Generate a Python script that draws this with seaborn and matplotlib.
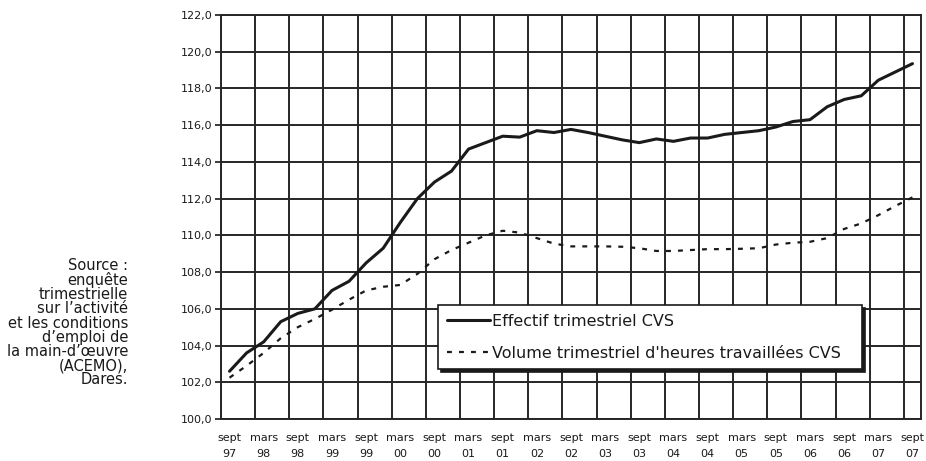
import numpy as np
import pandas as pd
import matplotlib
matplotlib.use("Agg")
import matplotlib.pyplot as plt
import seaborn as sns
from matplotlib.ticker import FixedLocator, FuncFormatter

# quarterly data, sept 97 .. sept 07 (41 quarters)
effectif = [102.6, 103.6, 104.2, 105.3, 105.75, 106.0, 107.0, 107.5, 108.5, 109.3,
            110.7, 112.0, 112.9, 113.5, 114.7, 115.05, 115.4, 115.35, 115.7, 115.6,
            115.77, 115.6, 115.4, 115.2, 115.05, 115.25, 115.12, 115.3, 115.3, 115.5,
            115.6, 115.7, 115.9, 116.2, 116.3, 117.0, 117.4, 117.6, 118.45, 118.9,
            119.35]
volume = [102.25, 102.9, 103.6, 104.4, 105.0, 105.45, 105.95, 106.5, 107.0, 107.2,
          107.3, 107.9, 108.7, 109.2, 109.6, 110.0, 110.25, 110.15, 109.85, 109.55,
          109.4, 109.4, 109.4, 109.38, 109.3, 109.15, 109.15, 109.2, 109.25, 109.25,
          109.27, 109.3, 109.5, 109.6, 109.65, 109.85, 110.35, 110.65, 111.1, 111.6,
          112.07]
tick_labels = ["sept\n97", "mars\n98", "sept\n98", "mars\n99", "sept\n99", "mars\n00",
               "sept\n00", "mars\n01", "sept\n01", "mars\n02", "sept\n02", "mars\n03",
               "sept\n03", "mars\n04", "sept\n04", "mars\n05", "sept\n05", "mars\n06",
               "sept\n06", "mars\n07", "sept\n07"]
series_names = ["Effectif trimestriel CVS", "Volume trimestriel d'heures travaillées CVS"]
source_text = ("Source :\nenquête\ntrimestrielle\nsur l\u2019activité\net les conditions\n"
               "d\u2019emploi de\nla main-d\u2019\u0153uvre\n(ACEMO),\nDares.")

sns.set_style("white")
plt.rcParams['font.family'] = ['DejaVu Sans']

df = pd.DataFrame({"q": np.arange(len(effectif)), "eff": effectif, "vol": volume})

fig = plt.figure(figsize=(9.26, 4.61), dpi=100)
ax = fig.add_axes([221 / 926, 1 - 419 / 461, 700 / 926, 404 / 461])

sns.lineplot(data=df, x="q", y="eff", ax=ax, color="#1a1a1a", lw=2.2,
             label=series_names[0])
sns.lineplot(data=df, x="q", y="vol", ax=ax, color="#1a1a1a", lw=1.6,
             dashes=False, linestyle=(0, (2.2, 3.2)), label=series_names[1])

n = len(effectif)
ax.set_xlim(-0.5, n - 0.5)
ax.set_ylim(100, 122)
ax.set_xlabel("")
ax.set_ylabel("")

# category labels every 2 quarters, grid at category boundaries
ax.xaxis.set_major_locator(FixedLocator(np.arange(0, n, 2)))
ax.set_xticklabels(tick_labels)
ax.xaxis.set_minor_locator(FixedLocator(np.arange(-0.5, n - 1, 2)))
ax.tick_params(axis="x", which="major", length=0, labelsize=8, pad=10, colors="#1a1a1a")
ax.tick_params(axis="x", which="minor", length=4, width=1.2, color="#1a1a1a", direction="out")
for lab in ax.get_xticklabels():
    lab.set_linespacing(1.8)

ax.set_yticks(np.arange(100, 123, 2))
ax.yaxis.set_major_formatter(FuncFormatter(lambda v, p: f"{v:.1f}".replace(".", ",")))
ax.tick_params(axis="y", length=4, width=1.2, color="#1a1a1a", labelsize=8, pad=2,
               colors="#1a1a1a", left=True)

ax.grid(True, axis="y", which="major", color="#262626", lw=1.4)
ax.grid(True, axis="x", which="minor", color="#262626", lw=1.4)
ax.grid(False, axis="x", which="major")
for s in ax.spines.values():
    s.set_color("#262626")
    s.set_linewidth(1.4)

# legend box stretched to the reference width
leg = ax.legend(loc="upper left", bbox_to_anchor=(0.31, 0.119, 0.606, 0.163), mode="expand",
                frameon=True, fancybox=False, edgecolor="#1a1a1a", framealpha=1,
                fontsize=11.5, handlelength=2.7, handletextpad=0.15, borderpad=0.55,
                labelspacing=1.05, borderaxespad=0,
                shadow={"color": "#1a1a1a", "alpha": 1})
leg.get_frame().set_linewidth(1.2)
for t in leg.get_texts():
    t.set_color("#1a1a1a")

fig.text(128 / 926, 1 - 258 / 461, source_text, ha="right", va="top", fontsize=10.5,
         color="#1a1a1a", linespacing=0.93)

fig.savefig("out.png", dpi=100)
